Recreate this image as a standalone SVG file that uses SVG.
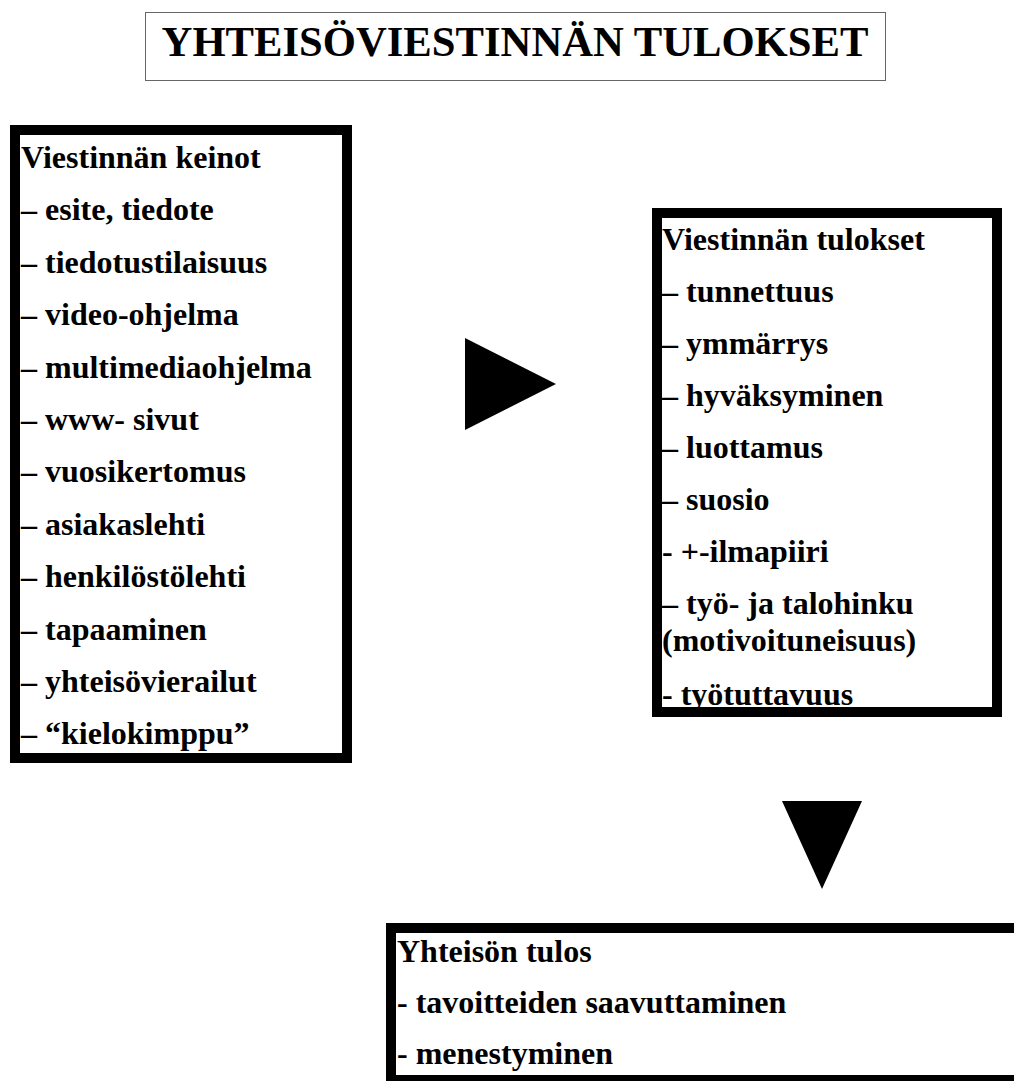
<svg xmlns="http://www.w3.org/2000/svg" width="1014" height="1081" viewBox="0 0 1014 1081">
<style>
text{font-family:"Liberation Serif","Times New Roman",serif;font-weight:bold;fill:#000}
.b{font-size:32px}
.t{font-size:42.67px}
.box{fill:#fff;stroke:#000;stroke-width:10}
.arr{fill:#000}
</style>
<rect width="1014" height="1081" fill="#fff"/>
<g id="title">
<rect x="145.5" y="12.5" width="740" height="68" fill="#fff" stroke="#666" stroke-width="1"/>
<text class="t" x="515" y="56" text-anchor="middle">YHTEISÖVIESTINNÄN TULOKSET</text>
</g>
<g id="keinot">
<rect class="box" x="15" y="130" width="332" height="628"/>
<text class="b" x="21" y="168">Viestinnän keinot</text>
<text class="b" x="21" y="220">– esite, tiedote</text>
<text class="b" x="21" y="273">– tiedotustilaisuus</text>
<text class="b" x="21" y="325">– video-ohjelma</text>
<text class="b" x="21" y="378">– multimediaohjelma</text>
<text class="b" x="21" y="430">– www- sivut</text>
<text class="b" x="21" y="482">– vuosikertomus</text>
<text class="b" x="21" y="535">– asiakaslehti</text>
<text class="b" x="21" y="587">– henkilöstölehti</text>
<text class="b" x="21" y="640">– tapaaminen</text>
<text class="b" x="21" y="692">– yhteisövierailut</text>
<text class="b" x="21" y="744">– “kielokimppu”</text>
</g>
<g id="tulokset">
<rect class="box" x="657" y="213" width="340" height="499"/>
<text class="b" x="662" y="250">Viestinnän tulokset</text>
<text class="b" x="662" y="302">– tunnettuus</text>
<text class="b" x="662" y="354">– ymmärrys</text>
<text class="b" x="662" y="406">– hyväksyminen</text>
<text class="b" x="662" y="458">– luottamus</text>
<text class="b" x="662" y="510">– suosio</text>
<text class="b" x="662" y="562">- +-ilmapiiri</text>
<text class="b" x="662" y="614">– työ- ja talohinku</text>
<text class="b" x="662" y="651">(motivoituneisuus)</text>
<text class="b" x="662" y="705">- työtuttavuus</text>
</g>
<g id="yhteison-tulos">
<rect class="box" x="391" y="928" width="640" height="152"/>
<text class="b" x="397" y="962">Yhteisön tulos</text>
<text class="b" x="397" y="1013">- tavoitteiden saavuttaminen</text>
<text class="b" x="397" y="1064">- menestyminen</text>
</g>
<g id="connectors">
<polygon class="arr" points="465,338 465,430 556,384"/>
<polygon class="arr" points="782,801 862,801 822,889"/>
</g>
</svg>
